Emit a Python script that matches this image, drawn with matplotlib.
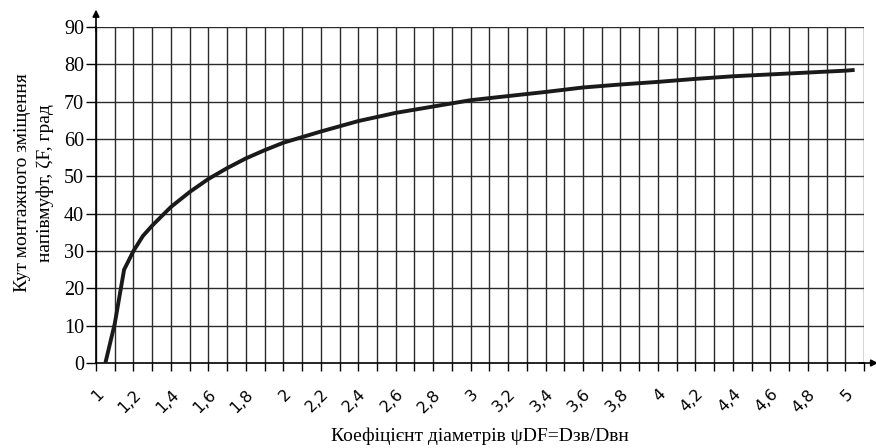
import matplotlib
matplotlib.use("Agg")
import matplotlib.pyplot as plt
import numpy as np

x_vals = [1.05, 1.1, 1.15, 1.2, 1.25, 1.3, 1.4, 1.5, 1.6, 1.7, 1.8, 1.9, 2.0,
          2.2, 2.4, 2.6, 2.8, 3.0, 3.2, 3.4, 3.6, 3.8, 4.0, 4.2, 4.4, 4.6,
          4.8, 5.0, 5.05]
y_vals = [0, 10.5, 25, 30, 34, 36.8, 41.8, 45.8, 49.3, 52.2, 54.8, 57, 59,
          62, 64.8, 67, 68.7, 70.4, 71.5, 72.6, 73.8, 74.6, 75.3, 76.1, 76.8,
          77.3, 77.8, 78.3, 78.5]

x_tick_vals = [1.0, 1.2, 1.4, 1.6, 1.8, 2.0, 2.2, 2.4, 2.6, 2.8, 3.0, 3.2, 3.4,
               3.6, 3.8, 4.0, 4.2, 4.4, 4.6, 4.8, 5.0]
x_tick_labels = ["1", "1,2", "1,4", "1,6", "1,8", "2", "2,2", "2,4", "2,6",
                 "2,8", "3", "3,2", "3,4", "3,6", "3,8", "4", "4,2", "4,4",
                 "4,6", "4,8", "5"]
y_ticks = [0, 10, 20, 30, 40, 50, 60, 70, 80, 90]

xlabel = "Коефіцієнт діаметрів ψDF=Dзв/Dвн"
ylabel = "Кут монтажного зміщення\nнапівмуфт, ζF, град"

W, H = 876, 448
fig = plt.figure(figsize=(W / 100, H / 100), dpi=100)
left, right, top, bottom = 96, 864, 27, 363
ax = fig.add_axes([left / W, 1 - bottom / H, (right - left) / W, (bottom - top) / H])

ax.set_xlim(1.0, 5.1)
ax.set_ylim(0, 90)

minor = np.round(np.arange(1.0, 5.1001, 0.1), 2)
ax.set_xticks(minor, minor=True)
ax.set_xticks(x_tick_vals)
ax.set_xticklabels(x_tick_labels, rotation=45, ha="right", rotation_mode="anchor",
                   fontsize=11.5, family="DejaVu Sans")
ax.set_yticks(y_ticks)
ax.set_yticklabels([str(v) for v in y_ticks], fontsize=14.5, family="Liberation Serif")

for xv in minor:
    ax.axvline(xv, color="#2a2a2a", lw=1.0, zorder=1)
for yv in y_ticks[1:]:
    ax.axhline(yv, color="#2a2a2a", lw=1.0, zorder=1)

ax.plot(x_vals, y_vals, color="#1a1a1a", lw=2.8, zorder=3, solid_capstyle="butt")

for s in ["top", "right"]:
    ax.spines[s].set_visible(False)
ax.spines["left"].set_color("black")
ax.spines["bottom"].set_color("black")
ax.spines["left"].set_linewidth(1.2)
ax.spines["bottom"].set_linewidth(1.2)

ax.tick_params(axis="x", which="both", direction="out", length=6, width=1, pad=11)
ax.tick_params(axis="y", which="both", direction="out", length=7, width=1, pad=1.5)

# axis arrows
ax.annotate("", xy=(0, 1.06), xycoords="axes fraction", xytext=(0, 0.98),
            arrowprops=dict(arrowstyle="-|>", color="black", lw=1.2,
                            mutation_scale=10))
ax.annotate("", xy=(1.022, 0), xycoords="axes fraction", xytext=(0.99, 0),
            arrowprops=dict(arrowstyle="-|>", color="black", lw=1.2,
                            mutation_scale=10))

fig.text(480 / W, 1 - 436 / H, xlabel, ha="center", va="center",
         fontsize=14, family="Liberation Serif")
fig.text(34 / W, 1 - 183 / H, ylabel, ha="center", va="center", rotation=90,
         fontsize=14, family="Liberation Serif", linespacing=1.45)

fig.savefig("out.png", dpi=100)
